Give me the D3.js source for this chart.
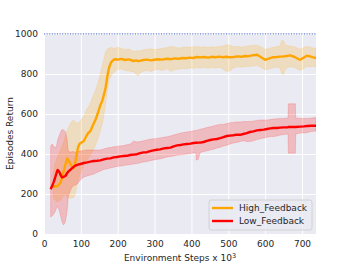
<!DOCTYPE html>
<html>
<head>
<meta charset="utf-8">
<script src="https://cdn.jsdelivr.net/npm/d3@7"></script>
<style>
  body { margin: 0; background: #fff; }
  text { font-family: "DejaVu Sans", sans-serif; fill: #262626; }
</style>
</head>
<body>
<script>
// High_Feedback (orange): steps, mean, band lower, band upper
const hfSteps = [
  25, 30, 35, 40, 45, 50, 55, 60, 63, 67,
  72, 77, 81, 85, 88, 92, 96, 100, 108, 115,
  120, 126, 133, 140, 147, 153, 158, 163, 167, 172,
  177, 182, 188, 194, 200, 210, 220, 230, 243, 250,
  255, 260, 270, 280, 290, 300, 310, 320, 334, 345,
  355, 365, 375, 385, 395, 405, 415, 424, 435, 445,
  455, 465, 475, 485, 495, 505, 514, 525, 535, 545,
  555, 565, 578, 588, 600, 612, 622, 632, 640, 645,
  650, 655, 668, 680, 690, 695, 703, 713, 722, 730,
  738];
const hfMean = [
  232, 240, 238, 245, 258, 290, 325, 360, 378, 366,
  348, 336, 330, 358, 390, 430, 450, 455, 465, 490,
  505, 515, 545, 572, 610, 645, 665, 700, 730, 790,
  835, 858, 870, 874, 872, 876, 870, 873, 865, 868,
  864, 866, 870, 872, 868, 871, 874, 872, 876, 874,
  878, 876, 880, 879, 882, 880, 885, 883, 885, 882,
  886, 884, 887, 884, 886, 883, 885, 888, 886, 890,
  889, 893, 896, 885, 871, 878, 884, 885, 887, 887,
  888, 889, 893, 885, 875, 871, 880, 891, 888, 883,
  880];
const hfLow = [
  190, 170, 160, 165, 170, 185, 200, 190, 185, 180,
  178, 180, 182, 200, 230, 265, 290, 310, 345, 365,
  380, 395, 420, 445, 480, 520, 550, 600, 650, 720,
  770, 790, 805, 815, 822, 826, 818, 815, 810, 800,
  790, 805, 815, 818, 812, 821, 824, 818, 826, 813,
  822, 824, 828, 826, 830, 828, 832, 830, 834, 828,
  834, 830, 834, 826, 813, 816, 830, 836, 834, 838,
  836, 840, 842, 834, 820, 826, 832, 834, 830, 800,
  797, 826, 838, 832, 822, 818, 826, 838, 836, 838,
  836];
const hfHigh = [
  300, 350, 380, 400, 420, 440, 470, 500, 520, 535,
  555, 565, 570, 560, 555, 555, 560, 570, 590, 620,
  635, 655, 690, 720, 760, 800, 840, 880, 910, 925,
  930, 932, 930, 928, 935, 928, 922, 925, 913, 915,
  918, 915, 920, 924, 926, 922, 925, 928, 932, 938,
  934, 930, 932, 935, 934, 936, 938, 934, 936, 932,
  936, 934, 938, 940, 946, 944, 936, 938, 934, 938,
  940, 942, 944, 936, 924, 928, 934, 936, 940, 968,
  966, 944, 940, 936, 928, 924, 930, 938, 934, 930,
  928];

// Low_Feedback (red)
const lfSteps = [
  18, 22, 26, 30, 34, 37, 41, 45, 49, 53,
  58, 63, 66, 72, 78, 85, 90, 99, 108, 117,
  126, 135, 144, 153, 162, 171, 180, 189, 198, 207,
  216, 225, 234, 243, 252, 261, 270, 279, 288, 297,
  306, 315, 325, 334, 343, 352, 361, 370, 379, 388,
  397, 406, 412, 413, 418, 424, 433, 442, 451, 460,
  469, 478, 487, 496, 505, 514, 523, 532, 541, 550,
  559, 568, 578, 587, 596, 605, 614, 623, 632, 641,
  650, 662, 663, 682, 683, 695, 705, 715, 725, 738];
const lfMean = [
  224, 240, 258, 280, 305, 320, 312, 295, 283, 286,
  290, 305, 312, 322, 332, 342, 346, 350, 355, 358,
  362, 365, 366, 368, 373, 377, 378, 383, 385, 388,
  390, 391, 395, 397, 399, 404, 408, 409, 414, 418,
  421, 423, 428, 430, 432, 438, 443, 445, 448, 450,
  452, 455, 456, 456, 457, 457, 460, 466, 470, 473,
  475, 479, 484, 490, 492, 494, 497, 496, 500, 504,
  510, 513, 518, 520, 522, 525, 528, 530, 530, 532,
  533, 534, 535, 535, 535, 537, 538, 540, 541, 541];
const lfLow = [
  85, 90, 100, 110, 130, 140, 120, 90, 60, 45,
  60, 120, 190, 220, 240, 245, 250, 270, 285, 290,
  295, 300, 308, 315, 322, 326, 330, 334, 338, 340,
  342, 345, 347, 350, 352, 356, 360, 362, 366, 370,
  373, 376, 380, 385, 388, 390, 394, 396, 398, 400,
  402, 405, 406, 371, 371, 408, 412, 416, 420, 424,
  430, 434, 440, 444, 450, 455, 458, 462, 466, 462,
  462, 466, 472, 476, 480, 484, 487, 487, 490, 495,
  497, 500, 404, 404, 500, 505, 505, 508, 512, 515];
const lfHigh = [
  440, 450, 440, 430, 440, 470, 490, 510, 523, 520,
  512, 470, 412, 410, 412, 410, 412, 415, 418, 420,
  420, 420, 420, 420, 425, 430, 432, 436, 438, 440,
  442, 446, 450, 465, 460, 462, 466, 470, 474, 476,
  478, 480, 484, 486, 490, 495, 500, 504, 508, 510,
  512, 516, 518, 518, 520, 524, 528, 532, 536, 540,
  545, 548, 548, 552, 556, 558, 560, 560, 562, 562,
  562, 565, 568, 570, 570, 570, 572, 575, 576, 578,
  578, 580, 651, 651, 580, 578, 578, 578, 580, 582];

const xTicks = [0, 100, 200, 300, 400, 500, 600, 700];
const yTicks = [0, 200, 400, 600, 800, 1000];
const optimum = 1000;

const seriesList = [
  { name: 'High_Feedback', color: '#FFA500', steps: hfSteps, mean: hfMean, low: hfLow, high: hfHigh },
  { name: 'Low_Feedback', color: '#FF0000', steps: lfSteps, mean: lfMean, low: lfLow, high: lfHigh }
];

const width = 352, height = 264;
const plot = { left: 44, right: 316, top: 33, bottom: 234 };
const fontSize = 9;

const svg = d3.select('body').append('svg')
  .attr('width', width)
  .attr('height', height);

const x = d3.scaleLinear().domain([0, 738]).range([plot.left, plot.right]);
const y = d3.scaleLinear().domain([0, 1005]).range([plot.bottom, plot.top]);

svg.append('rect')
  .attr('x', plot.left).attr('y', plot.top)
  .attr('width', plot.right - plot.left).attr('height', plot.bottom - plot.top)
  .attr('fill', '#EAEAF2');

// grid
const xGrid = d3.axisBottom(x).tickValues(xTicks).tickSize(-(plot.bottom - plot.top)).tickFormat(() => '');
const yGrid = d3.axisLeft(y).tickValues(yTicks).tickSize(-(plot.right - plot.left)).tickFormat(() => '');
svg.append('g').attr('transform', 'translate(0,' + plot.bottom + ')').call(xGrid)
  .call(g => g.select('.domain').remove())
  .selectAll('line').attr('stroke', '#fff').attr('stroke-width', 1);
svg.append('g').attr('transform', 'translate(' + plot.left + ',0)').call(yGrid)
  .call(g => g.select('.domain').remove())
  .selectAll('line').attr('stroke', '#fff').attr('stroke-width', 1);

// tick labels
const xAxis = d3.axisBottom(x).tickValues(xTicks).tickFormat(d3.format('d')).tickSize(0).tickPadding(7);
const yAxis = d3.axisLeft(y).tickValues(yTicks).tickFormat(d3.format('d')).tickSize(0).tickPadding(6);
svg.append('g').attr('transform', 'translate(0,' + plot.bottom + ')').call(xAxis)
  .call(g => g.select('.domain').remove())
  .selectAll('text').attr('font-size', fontSize).attr('font-family', 'DejaVu Sans').attr('fill', '#262626');
svg.append('g').attr('transform', 'translate(' + plot.left + ',0)').call(yAxis)
  .call(g => g.select('.domain').remove())
  .selectAll('text').attr('font-size', fontSize).attr('font-family', 'DejaVu Sans').attr('fill', '#262626');

svg.append('clipPath').attr('id', 'plotclip').append('rect')
  .attr('x', plot.left).attr('y', plot.top)
  .attr('width', plot.right - plot.left).attr('height', plot.bottom - plot.top);

const marks = svg.append('g').attr('clip-path', 'url(#plotclip)');

seriesList.forEach(s => {
  const rows = s.steps.map((st, i) => ({ st: st, m: s.mean[i], lo: s.low[i], hi: s.high[i] }));
  const band = d3.area().x(d => x(d.st)).y0(d => y(d.lo)).y1(d => y(d.hi));
  marks.append('path').datum(rows)
    .attr('d', band)
    .attr('fill', s.color).attr('fill-opacity', 0.2)
    .attr('stroke', s.color).attr('stroke-opacity', 0.2).attr('stroke-width', 0.8);
});

seriesList.forEach(s => {
  const rows = s.steps.map((st, i) => ({ st: st, m: s.mean[i] }));
  const line = d3.line().x(d => x(d.st)).y(d => y(d.m));
  marks.append('path').datum(rows)
    .attr('d', line)
    .attr('fill', 'none').attr('stroke', s.color).attr('stroke-width', 2.4)
    .attr('stroke-linejoin', 'round');
});

// optimum dotted line
svg.append('line')
  .attr('x1', plot.left).attr('x2', plot.right)
  .attr('y1', y(optimum)).attr('y2', y(optimum))
  .attr('stroke', '#3B5FC8').attr('stroke-width', 1.1).attr('stroke-dasharray', '1,1.6');

// axis labels
svg.append('text')
  .attr('x', (plot.left + plot.right) / 2).attr('y', 261)
  .attr('text-anchor', 'middle').attr('font-size', fontSize)
  .html('Environment Steps x 10<tspan dy="-3.5" font-size="6.5">3</tspan>');
svg.append('text')
  .attr('transform', 'translate(13,' + ((plot.top + plot.bottom) / 2) + ') rotate(-90)')
  .attr('text-anchor', 'middle').attr('font-size', fontSize)
  .text('Episodes Return');

// legend
const legend = svg.append('g').attr('transform', 'translate(209,200)');
legend.append('rect')
  .attr('width', 103).attr('height', 30).attr('rx', 2)
  .attr('fill', '#EAEAF2').attr('fill-opacity', 0.8)
  .attr('stroke', '#CCCCCC').attr('stroke-width', 0.8);
seriesList.forEach((s, i) => {
  const ly = 8 + i * 13;
  legend.append('line')
    .attr('x1', 3).attr('x2', 24).attr('y1', ly).attr('y2', ly)
    .attr('stroke', s.color).attr('stroke-width', 2.4);
  legend.append('text')
    .attr('x', 30).attr('y', ly + 3.3).attr('font-size', fontSize)
    .text(s.name);
});
</script>
</body>
</html>
